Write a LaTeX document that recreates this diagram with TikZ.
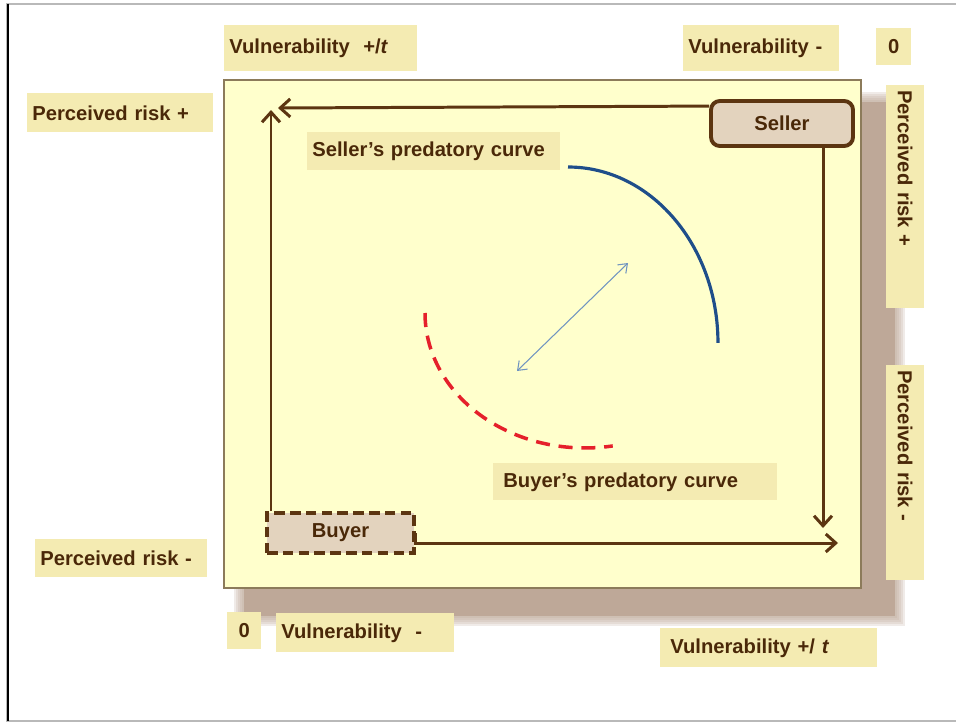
\documentclass[tikz,border=0pt]{standalone}
\usepackage{fontspec}
\setmainfont{Liberation Sans}
\usepackage{tikz}
\usetikzlibrary{arrows.meta, positioning, calc}
\definecolor{TextBrown}{HTML}{4A2808}
\definecolor{ArrowBrown}{HTML}{5C3511}
\definecolor{PanelYellow}{HTML}{FFFFCC}
\definecolor{PanelEdge}{HTML}{8C7B5A}
\definecolor{LabelKhaki}{HTML}{F4EBB2}
\definecolor{ShadowTan}{HTML}{BEA898}
\definecolor{TanFill}{HTML}{E3D3BE}
\definecolor{CurveBlue}{HTML}{1F4E8A}
\definecolor{CurveRed}{HTML}{E5202B}
\definecolor{LinkBlue}{HTML}{7094C0}
\tikzset{
  panelbox/.style={rectangle, draw=PanelEdge, line width=0.8pt, fill=PanelYellow, minimum width=12.74cm, minimum height=10.16cm, inner sep=0pt},
  labelbox/.style={rectangle, fill=LabelKhaki, anchor=north west, inner xsep=0.1cm, inner ysep=0pt, align=left, text=TextBrown, font=\bfseries\fontsize{11.5}{13}\selectfont},
  sidebox/.style={labelbox, anchor=center, rotate=-90},
  sellerbox/.style={rectangle, rounded corners=5pt, draw=ArrowBrown, line width=2.2pt, fill=TanFill, minimum width=2.84cm, minimum height=0.9cm, text=TextBrown, font=\bfseries\fontsize{11.5}{13}\selectfont},
  buyerbox/.style={rectangle, draw=ArrowBrown, line width=2.2pt, dash pattern=on 6pt off 3pt, fill=TanFill, minimum width=2.94cm, minimum height=0.8cm, text=TextBrown, font=\bfseries\fontsize{11.5}{13}\selectfont},
  axisarrow/.style={-{Straight Barb[length=2mm,width=3.6mm]}, line width=1.7pt, ArrowBrown},
  linkarrow/.style={{Straight Barb[length=1.6mm,width=2.4mm]}-{Straight Barb[length=1.6mm,width=2.4mm]}, line width=0.6pt, LinkBlue},
  sellerline/.style={line width=1.8pt, CurveBlue},
  buyerline/.style={line width=2pt, CurveRed, dash pattern=on 8pt off 5pt}
}
\begin{document}
\begin{tikzpicture}[x=0.02cm, y=-0.02cm]
  \useasboundingbox (0,0) rectangle (956,723);
  \fill[white] (0,0) rectangle (956,723);
  \draw[gray!55, line width=0.6pt] (956,4) -- (7,4) -- (7,721) -- (956,721);
  \draw[black, line width=1.4pt] (8,4) -- (8,721);

  % shadow and panel
  \foreach \d in {0,2,...,8}
    \fill[ShadowTan, opacity=0.22] (234+\d,92+\d) rectangle (905-\d,626-\d);
  \fill[ShadowTan] (244,102) rectangle (895,616);
  \node[panelbox] (panel) at (542.5,334) {};

  % axis labels
  \node[labelbox, text width=3.66cm, minimum height=0.92cm] (vtop) at (224,25) {Vulnerability~ +/\textit{t}};
  \node[labelbox, text width=2.92cm, minimum height=0.92cm] (vmintop) at (683,25) {Vulnerability -};
  \node[labelbox, text width=0.5cm, minimum height=0.74cm, align=center] (zerotop) at (876,28) {0};
  \node[labelbox, text width=3.52cm, minimum height=0.78cm] (rplusleft) at (27,93) {Perceived risk +};
  \node[labelbox, text width=3.24cm, minimum height=0.76cm] (rminleft) at (35,539) {Perceived risk -};
  \node[sidebox, text width=4.26cm, minimum height=0.76cm] (rplusright) at (905,196.5) {Perceived risk +};
  \node[sidebox, text width=4.1cm, minimum height=0.76cm] (rminright) at (905,472.5) {Perceived risk -};
  \node[labelbox, text width=0.48cm, minimum height=0.74cm, align=center] (zerobot) at (227,612) {0};
  \node[labelbox, text width=3.36cm, minimum height=0.78cm] (vminbot) at (276,613) {Vulnerability~ -};
  \node[labelbox, text width=3.94cm, minimum height=0.78cm, inner xsep=0.2cm] (vbot) at (660,628) {Vulnerability +/ \textit{t}};

  % curve labels
  \node[labelbox, text width=4.86cm, minimum height=0.76cm] (sellerlab) at (307,132) {Seller's predatory curve};
  \node[labelbox, text width=5.28cm, minimum height=0.74cm, inner xsep=0.2cm] (buyerlab) at (493,463) {Buyer's predatory curve};

  % parties
  \node[sellerbox] (seller) at (782,123.5) {Seller};
  \node[buyerbox] (buyer) at (340.5,533) {Buyer};

  \coordinate (vultop) at (278,108);
  \coordinate (risktop) at (271,110);
  \coordinate (riskbot) at (823,528);
  \coordinate (vulbot) at (838,543);

  \draw[axisarrow] ([yshift=-0.14cm]seller.north west) -- (vultop);
  \draw[axisarrow] (riskbot |- seller.south) -- (riskbot);
  \draw[axisarrow] (risktop |- buyer.north) -- (risktop);
  \draw[axisarrow] (buyer.east) |- (vulbot);

  % predatory curves
  \draw[sellerline] (568,167) arc[start angle=90, end angle=0, x radius=3cm, y radius=3.52cm];
  \draw[buyerline] (425,313) arc[start angle=180, end angle=280, x radius=3.2cm, y radius=2.7cm];

  \coordinate (linklo) at (517,371);
  \coordinate (linkhi) at (628,263);
  \draw[linkarrow] (linklo) -- (linkhi);
\end{tikzpicture}
\end{document}
